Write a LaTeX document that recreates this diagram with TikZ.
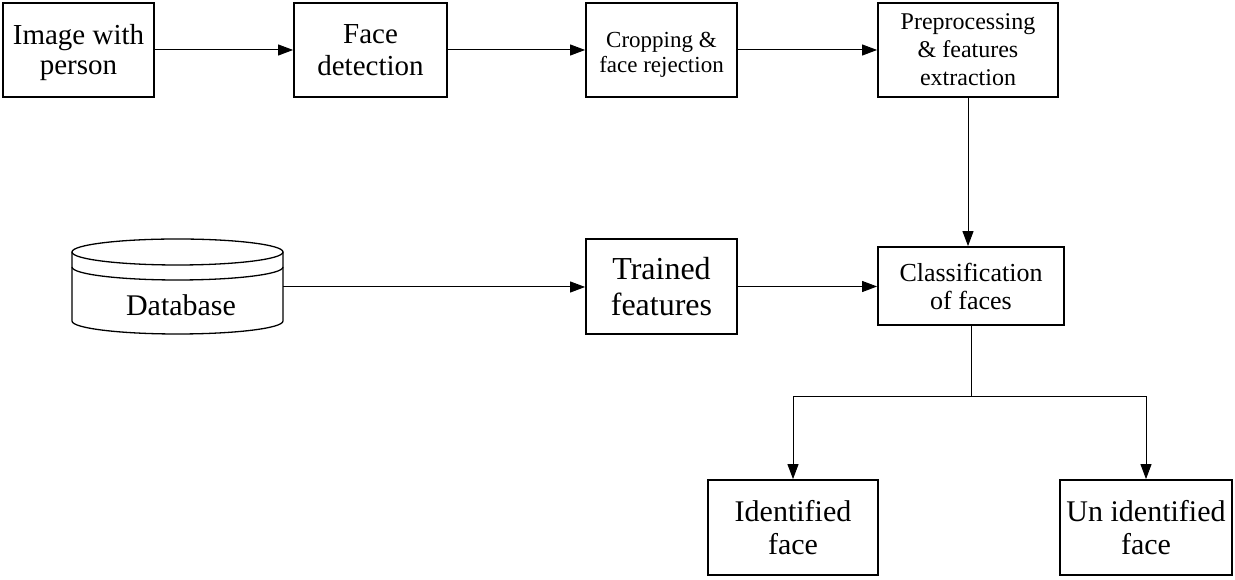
\documentclass[tikz,border=0pt]{standalone}
\usepackage{fontspec}
\setmainfont{Liberation Serif}
\usetikzlibrary{arrows.meta}
\tikzset{
  box/.style={draw=black, line width=1.8pt, inner sep=0pt, align=center, fill=white},
  arr/.style={line width=1pt, -{Triangle[length=15pt,width=11pt]}},
  conn/.style={line width=1pt},
  cyl/.style={line width=1.3pt}
}
\newcommand{\fs}[2]{\fontsize{#1}{#2}\selectfont}
\begin{document}
\begin{tikzpicture}[x=1pt,y=1pt]
\useasboundingbox (0,0) rectangle (1235,580);
% top row
\node[box, minimum width=151, minimum height=94, font=\fs{29}{30}] (A) at (78.5,530) {\rule{0pt}{26pt}Image with\\person};
\node[box, minimum width=153, minimum height=94, font=\fs{29}{32}] (B) at (370.5,530) {Face\\detection};
\node[box, minimum width=151, minimum height=94, font=\fs{23}{25}] (C) at (661.5,530) {\rule{0pt}{25pt}Cropping \&\\face rejection};
\node[box, minimum width=180, minimum height=94, font=\fs{24}{28}] (D) at (968,530) {Preprocessing\\\& features\\extraction};
% middle row
\node[box, minimum width=151, minimum height=95, font=\fs{32}{36}] (T) at (661.5,293.5) {Trained\\features};
\node[box, minimum width=186, minimum height=78, font=\fs{26}{28}] (K) at (971,294) {Classification\\of faces};
% bottom row
\node[box, minimum width=170, minimum height=95, font=\fs{30}{33}] (I) at (793,52.5) {Identified\\face};
\node[box, minimum width=172, minimum height=95, font=\fs{30}{33}] (U) at (1146,52.5) {Un identified\\face};
% database cylinder
\draw[cyl] (177.5,328) ellipse[x radius=105.5, y radius=13];
\draw[cyl] (72,313) arc[start angle=180, end angle=360, x radius=105.5, y radius=13];
\draw[cyl] (72,328) -- (72,259) arc[start angle=180, end angle=360, x radius=105.5, y radius=13] -- (283,328);
\node[inner sep=0pt, font=\fs{30}{32}] (DB) at (181,275) {Database};
\coordinate (dbr) at (283,293);
% connectors
\draw[arr] (A.east) -- (B.west);
\draw[arr] (B.east) -- (C.west);
\draw[arr] (C.east) -- (D.west);
\draw[arr] (D.south) -- (D.south |- K.north);
\draw[arr] (dbr) -- (dbr -| T.west);
\draw[arr] (T.east) -- (T.east -| K.west);
\coordinate (br) at (971,183);
\draw[conn] (K.south) -- (br);
\draw[arr] (br) -| (I.north);
\draw[arr] (br) -| (U.north);
\end{tikzpicture}
\end{document}
